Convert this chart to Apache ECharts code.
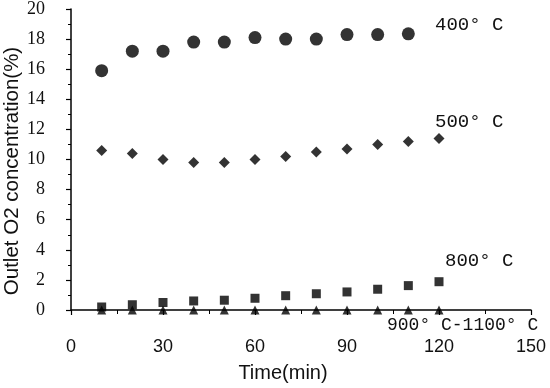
<!DOCTYPE html>
<html>
<head>
<meta charset="utf-8">
<script src="https://cdn.jsdelivr.net/npm/echarts@6/dist/echarts.min.js"></script>
<style>html,body{margin:0;padding:0;background:#fff}#c{width:550px;height:388px}</style>
</head>
<body>
<div id="c"></div>
<script>
var times = [10, 20, 30, 40, 50, 60, 70, 80, 90, 100, 110, 120];
var t400 = [15.9, 17.2, 17.2, 17.8, 17.8, 18.1, 18.0, 18.0, 18.3, 18.3, 18.35];
var t500 = [10.6, 10.4, 10.0, 9.8, 9.8, 10.0, 10.2, 10.5, 10.7, 11.0, 11.2, 11.4];
var t800 = [0.2, 0.35, 0.5, 0.6, 0.65, 0.78, 0.95, 1.08, 1.2, 1.38, 1.62, 1.88];
var t900 = [0, 0, 0, 0, 0, 0, 0, 0, 0, 0, 0, 0];
var xTicks = [0, 30, 60, 90, 120, 150];
var yTicks = [0, 2, 4, 6, 8, 10, 12, 14, 16, 18, 20];
var seriesNames = ['400° C', '500° C', '800° C', '900° C-1100° C'];

function pairs(vals) { return vals.map(function (v, i) { return [times[i], v]; }); }

var chart = echarts.init(document.getElementById('c'));
var monoFont = '"Liberation Mono", "DejaVu Sans Mono", monospace';
var sansFont = '"Liberation Sans", Arial, sans-serif';
chart.setOption({
  animation: false,
  grid: { left: 71, right: 19, top: 5, bottom: 78 },
  xAxis: {
    type: 'value', min: xTicks[0], max: xTicks[xTicks.length - 1], interval: 30,
    axisLine: { onZero: false, lineStyle: { color: '#000', width: 1.5 } },
    axisTick: { length: 5, lineStyle: { color: '#000', width: 1.2 } },
    minorTick: { show: true, splitNumber: 2, length: 4, lineStyle: { color: '#000', width: 1 } },
    splitLine: { show: false },
    axisLabel: { color: '#111', fontFamily: sansFont, fontSize: 18, margin: 28 }
  },
  yAxis: {
    type: 'value', min: yTicks[0], max: yTicks[yTicks.length - 1], interval: 2,
    axisLine: { show: true, lineStyle: { color: '#000', width: 1.5 } },
    axisTick: { show: true, length: 5, lineStyle: { color: '#000', width: 1.2 } },
    minorTick: { show: true, splitNumber: 2, length: 3, lineStyle: { color: '#000', width: 1 } },
    splitLine: { show: false },
    axisLabel: { color: '#111', fontFamily: '"Liberation Serif", "Times New Roman", serif', fontSize: 18, margin: 26 }
  },
  series: [
    { name: seriesNames[0], type: 'scatter', symbol: 'circle', symbolSize: 13, itemStyle: { color: '#000' }, data: pairs(t400), z: 3 },
    { name: seriesNames[1], type: 'scatter', symbol: 'diamond', symbolSize: 11, itemStyle: { color: '#000' }, data: pairs(t500), z: 3 },
    { name: seriesNames[2], type: 'scatter', symbol: 'rect', symbolSize: [9, 9], itemStyle: { color: '#000' }, data: pairs(t800), z: 3 },
    { name: seriesNames[3], type: 'scatter', symbol: 'triangle', symbolSize: 9, itemStyle: { color: '#000' }, data: pairs(t900), z: 4 }
  ],
  graphic: [
    { type: 'text', left: 435, top: 15, style: { text: seriesNames[0], font: '19px ' + monoFont, fill: '#111' } },
    { type: 'text', left: 435, top: 112, style: { text: seriesNames[1], font: '19px ' + monoFont, fill: '#111' } },
    { type: 'text', left: 445, top: 251, style: { text: seriesNames[2], font: '19px ' + monoFont, fill: '#111' } },
    { type: 'text', left: 387, top: 316, style: { text: seriesNames[3], font: '18px ' + monoFont, fill: '#111' } },
    { type: 'text', x: 283, y: 373, style: { text: 'Time(min)', font: '20px ' + sansFont, fill: '#111', textAlign: 'center', textVerticalAlign: 'middle' } },
    { type: 'text', x: 12, y: 171, rotation: Math.PI / 2, style: { text: 'Outlet O2 concentration(%)', font: '20.5px ' + sansFont, fill: '#111', textAlign: 'center', textVerticalAlign: 'middle' } }
  ]
});
</script>
</body>
</html>
